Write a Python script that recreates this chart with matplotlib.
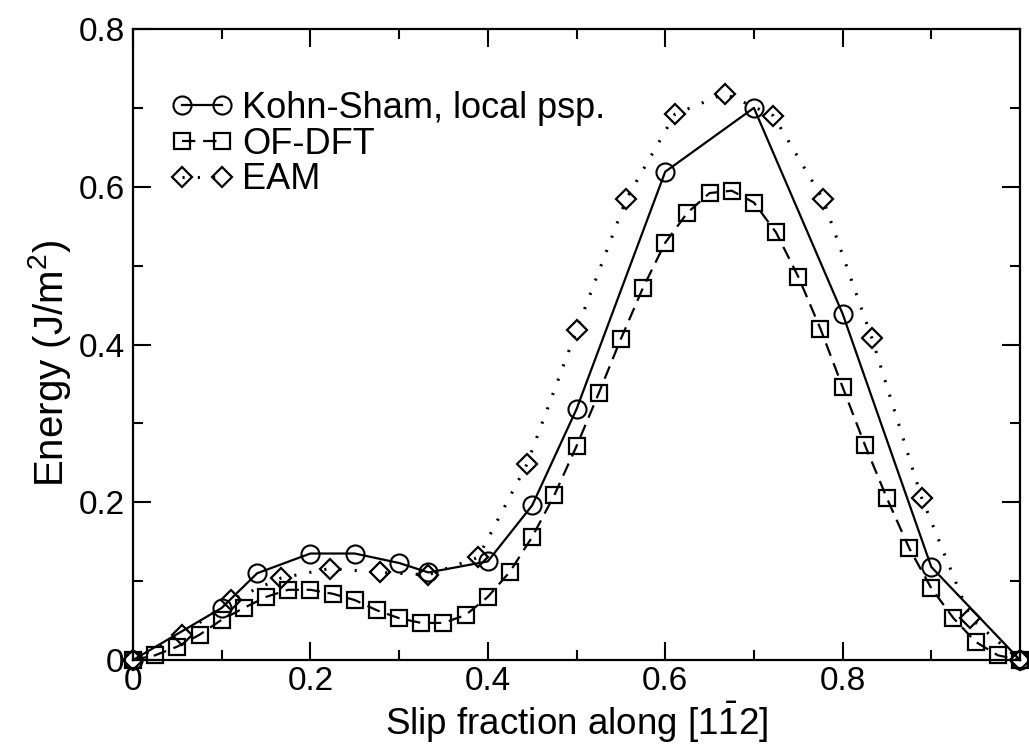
import matplotlib
matplotlib.use("Agg")
import matplotlib.pyplot as plt
import numpy as np
from matplotlib.ticker import MultipleLocator, FuncFormatter

plt.rcParams['font.family'] = ['Liberation Sans', 'DejaVu Sans']
plt.rcParams['mathtext.fontset'] = 'custom'
plt.rcParams['mathtext.rm'] = 'Liberation Sans'
plt.rcParams['mathtext.it'] = 'Liberation Sans:italic'

# Kohn-Sham, local psp.
ks_x = [0.0, 0.1, 0.14, 0.2, 0.25, 0.3, 0.333, 0.4, 0.45, 0.5, 0.6, 0.7, 0.8, 0.9, 1.0]
ks_y = [0.0, 0.066, 0.110, 0.135, 0.135, 0.123, 0.111, 0.125, 0.196, 0.318, 0.619, 0.700, 0.439, 0.118, 0.0]

# OF-DFT
of_x = [0.0, 0.025, 0.05, 0.075, 0.1, 0.125, 0.15, 0.175, 0.2, 0.225, 0.25, 0.275, 0.3, 0.325,
        0.35, 0.375, 0.4, 0.425, 0.45, 0.475, 0.5, 0.525, 0.55, 0.575, 0.6, 0.625, 0.65, 0.675,
        0.7, 0.725, 0.75, 0.775, 0.8, 0.825, 0.85, 0.875, 0.9, 0.925, 0.95, 0.975, 1.0]
of_y = [0.0, 0.006, 0.017, 0.032, 0.051, 0.066, 0.080, 0.089, 0.089, 0.084, 0.076, 0.063, 0.053, 0.047,
        0.047, 0.057, 0.080, 0.112, 0.156, 0.209, 0.271, 0.338, 0.407, 0.472, 0.529, 0.567, 0.592, 0.595,
        0.580, 0.542, 0.486, 0.420, 0.346, 0.273, 0.205, 0.142, 0.091, 0.053, 0.023, 0.006, 0.0]

# EAM
eam_x = [0.0, 0.0556, 0.111, 0.167, 0.222, 0.278, 0.333, 0.389, 0.444, 0.5, 0.556, 0.611, 0.667,
         0.722, 0.778, 0.833, 0.889, 0.944, 1.0]
eam_y = [0.0, 0.032, 0.076, 0.104, 0.116, 0.111, 0.108, 0.130, 0.248, 0.418, 0.584, 0.692, 0.718,
         0.690, 0.584, 0.408, 0.206, 0.053, 0.0]

labels = ["Kohn-Sham, local psp.", "OF-DFT", "EAM"]
x_major = [0, 0.2, 0.4, 0.6, 0.8]
y_major = [0, 0.2, 0.4, 0.6, 0.8]

fig = plt.figure(figsize=(10.29, 7.45), dpi=100)
ax = fig.add_axes([133/1029, 1-660/745, (1020-133)/1029, (660-29)/745])

ax.plot(ks_x, ks_y, color='black', lw=1.6, ls='-', marker='o', ms=13, mfc='none',
        mec='black', mew=1.5, clip_on=False, label=labels[0], zorder=3)
ax.plot(of_x, of_y, color='black', lw=1.6, ls=(0, (6, 3.5)), marker='s', ms=12, mfc='none',
        mec='black', mew=1.6, clip_on=False, label=labels[1], zorder=3)
ax.plot(eam_x, eam_y, color='black', lw=2.2, ls=(0, (0.7, 4.3)), marker='D', ms=10, mfc='none',
        mec='black', mew=1.6, clip_on=False, label=labels[2], zorder=3)

ax.set_xlim(0, 1.0)
ax.set_ylim(0, 0.8)
ax.set_xticks(x_major)
ax.set_yticks(y_major)
ax.xaxis.set_minor_locator(MultipleLocator(0.1))
ax.yaxis.set_minor_locator(MultipleLocator(0.1))
fmt = FuncFormatter(lambda v, p: '0' if abs(v) < 1e-9 else f'{v:.1f}')
ax.xaxis.set_major_formatter(fmt)
ax.yaxis.set_major_formatter(fmt)

ax.tick_params(which='both', direction='in', top=True, right=True, labelsize=24, width=1.5)
ax.tick_params(which='major', length=13, pad=6)
ax.tick_params(axis='x', which='major', pad=4)
ax.tick_params(which='minor', length=7)
for s in ax.spines.values():
    s.set_linewidth(1.6)

ax.set_xlabel(r'Slip fraction along [1$\bar{1}$2]', fontsize=26.5)
ax.set_ylabel(r'Energy (J/m$^2$)', fontsize=29)
ax.xaxis.set_label_coords(0.5, -0.064)
ax.yaxis.set_label_coords(-0.068, 0.47)

leg = ax.legend(loc='upper left', bbox_to_anchor=(0.0435, 0.902), frameon=False, fontsize=26,
                numpoints=2, handlelength=1.7, handletextpad=0.26, labelspacing=0.02,
                borderpad=0, borderaxespad=0)

fig.savefig('out.png', dpi=100)
